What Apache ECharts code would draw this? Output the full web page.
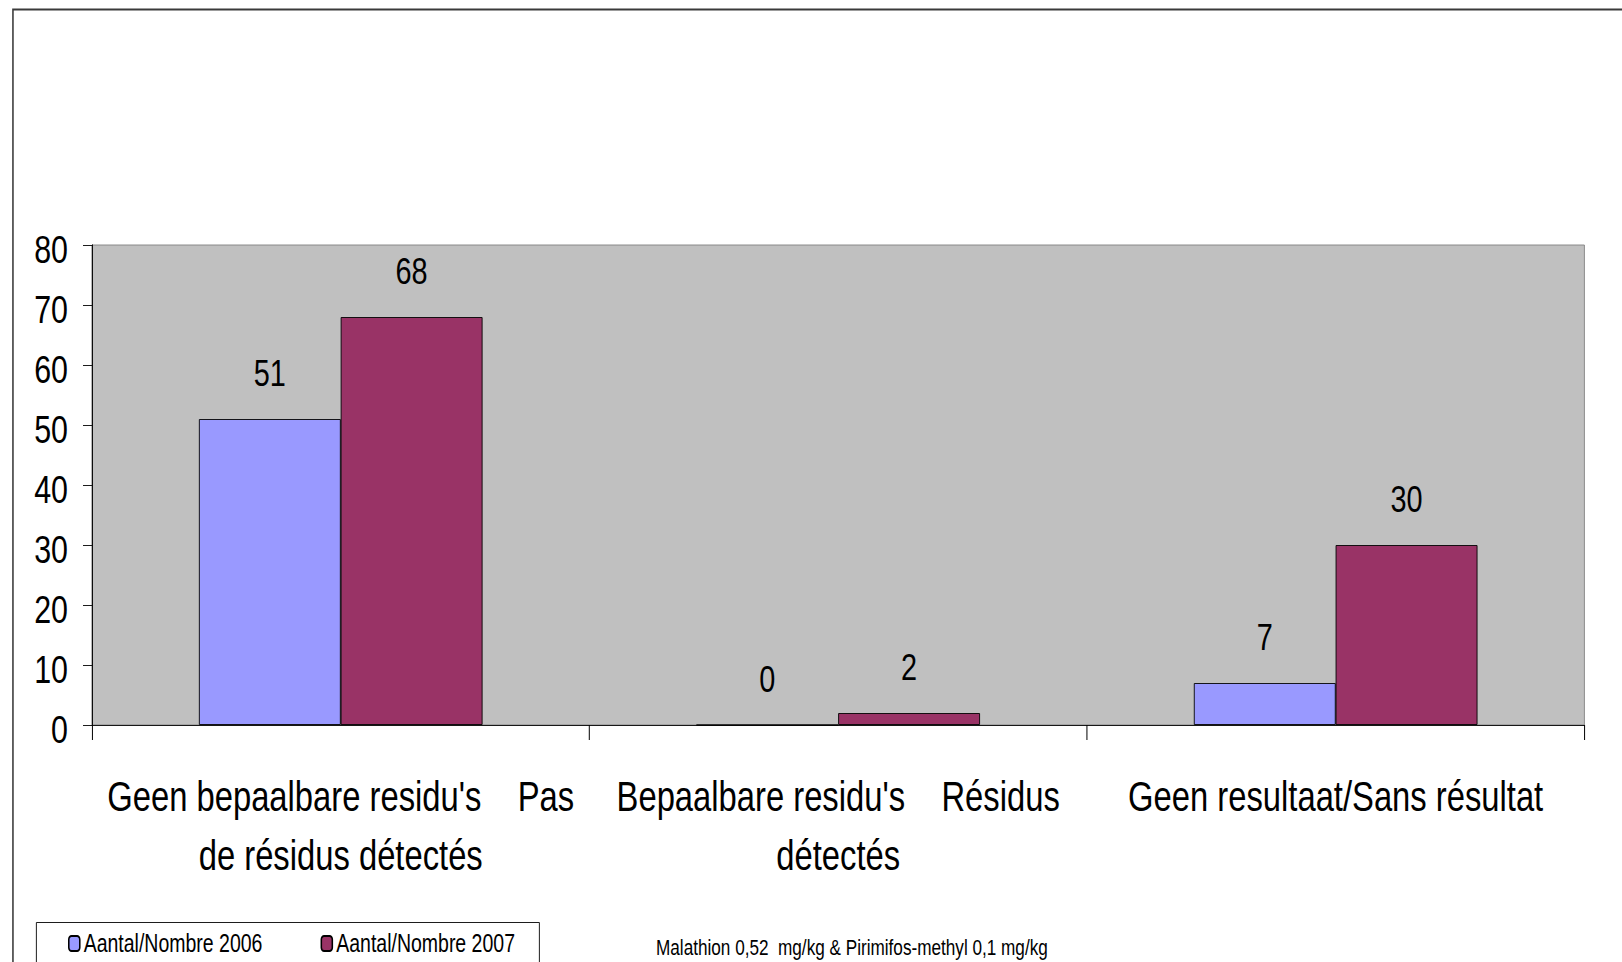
<!DOCTYPE html>
<html>
<head>
<meta charset="utf-8">
<script src="https://cdn.jsdelivr.net/npm/echarts@6/dist/echarts.min.js"></script>
<style>
html,body{margin:0;padding:0;background:#fff;overflow:hidden;}
#wrap{width:1622px;height:962px;overflow:hidden;position:relative;}
#chart{width:2080px;height:962px;transform:scaleX(0.78);transform-origin:0 0;position:absolute;left:0;top:0;}
</style>
</head>
<body>
<div id="wrap"><div id="chart"></div></div>
<script>
const categories = [
  "Geen bepaalbare residu's    Pas\nde résidus détectés",
  "Bepaalbare residu's    Résidus\ndétectés",
  "Geen resultaat/Sans résultat"
];
const seriesNames = ["Aantal/Nombre 2006", "Aantal/Nombre 2007"];
const values2006 = [51, 0, 7];
const values2007 = [68, 2, 30];
const yMin = 0, yMax = 80, yStep = 10;
const footnote = "Malathion 0,52  mg/kg & Pirimifos-methyl 0,1 mg/kg";

// horizontal condensing factor applied to the whole chart (narrow-font look)
const SX = 0.78;
const px = v => v / SX;

const FONT = "'Liberation Sans', Arial, sans-serif";
const chart = echarts.init(document.getElementById('chart'), null, {renderer: 'svg', width: 2080, height: 962});

const labelCfg = {
  show: true, position: 'top', distance: 27,
  fontFamily: FONT, fontSize: 37, color: '#000'
};

chart.setOption({
  animation: false,
  backgroundColor: '#fff',
  grid: {
    left: px(92), right: px(38), top: 245, bottom: 237,
    show: true, backgroundColor: '#C0C0C0', borderColor: '#808080', borderWidth: 1,
    containLabel: false
  },
  legend: {
    left: px(68), top: 931, padding: 0,
    itemWidth: px(11), itemHeight: 15, itemGap: px(58),
    textStyle: {fontFamily: FONT, fontSize: 25, color: '#000'},
    data: seriesNames
  },
  graphic: [
    {type: 'rect', left: px(11), top: 7, z: -10, silent: true,
     shape: {width: 2200, height: 1100},
     style: {fill: 'none', stroke: '#3a3a3a', lineWidth: 2}},
    {type: 'rect', left: px(36), top: 922, z: -5, silent: true,
     shape: {width: px(503), height: 80},
     style: {fill: '#fff', stroke: '#000', lineWidth: 1}},
    {type: 'text', left: px(656), top: 936, z: 10, silent: true,
     style: {text: footnote, fontFamily: FONT, fontSize: 22, fill: '#000'}}
  ],
  xAxis: {
    type: 'category',
    data: categories,
    axisLine: {show: true, lineStyle: {color: '#000', width: 1}},
    axisTick: {show: true, length: 15, interval: 0, alignWithLabel: false, lineStyle: {color: '#000', width: px(1)}},
    axisLabel: {
      interval: 0, margin: 42, fontFamily: FONT, fontSize: 42, lineHeight: 59,
      color: '#000', align: 'center', verticalAlign: 'top'
    },
    splitLine: {show: false}
  },
  yAxis: {
    type: 'value', min: yMin, max: yMax, interval: yStep,
    axisLine: {show: true, lineStyle: {color: '#000', width: px(1)}},
    axisTick: {show: true, length: px(9), lineStyle: {color: '#000'}},
    axisLabel: {margin: px(24), fontFamily: FONT, fontSize: 39, color: '#000',
      verticalAlign: 'top', lineHeight: 8},
    splitLine: {show: false}
  },
  series: [
    {
      name: seriesNames[0], type: 'bar', data: values2006,
      barGap: '0%', barCategoryGap: '43%',
      itemStyle: {color: '#9999FF', borderColor: '#000', borderWidth: 1},
      label: labelCfg
    },
    {
      name: seriesNames[1], type: 'bar', data: values2007,
      barGap: '0%', barCategoryGap: '43%',
      itemStyle: {color: '#993366', borderColor: '#000', borderWidth: 1},
      label: labelCfg
    }
  ]
});
</script>
</body>
</html>
